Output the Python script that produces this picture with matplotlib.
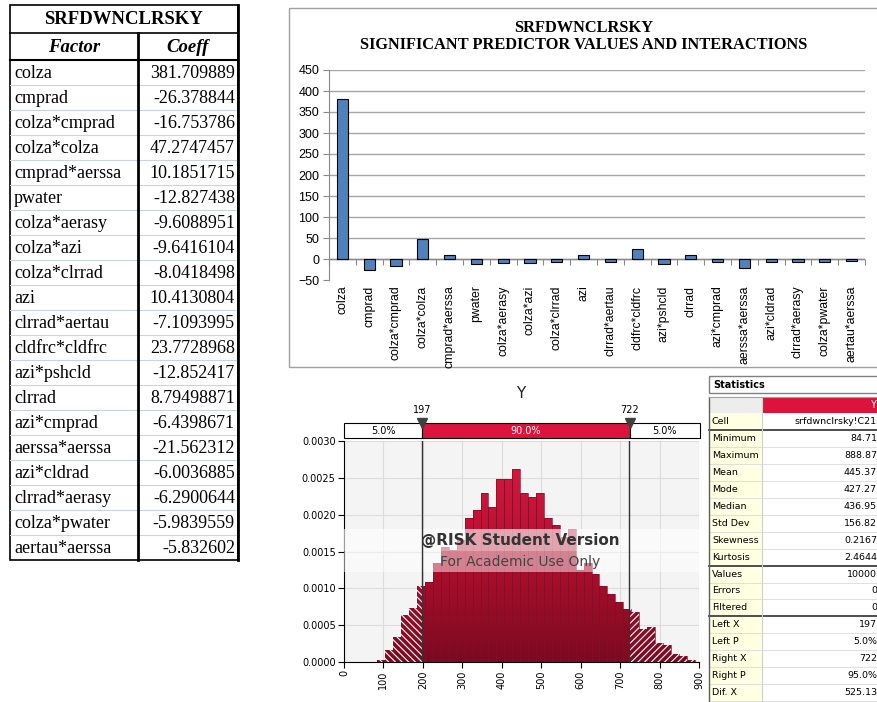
import matplotlib.pyplot as plt
import numpy as np
from matplotlib.colors import LinearSegmentedColormap
from matplotlib.patches import Rectangle
from matplotlib.path import Path

W, H = 878, 702

# regression terms kept for SRFDWNCLRSKY
factors = ['colza', 'cmprad', 'colza*cmprad', 'colza*colza', 'cmprad*aerssa',
           'pwater', 'colza*aerasy', 'colza*azi', 'colza*clrrad', 'azi',
           'clrrad*aertau', 'cldfrc*cldfrc', 'azi*pshcld', 'clrrad', 'azi*cmprad',
           'aerssa*aerssa', 'azi*cldrad', 'clrrad*aerasy', 'colza*pwater',
           'aertau*aerssa']
coeff_text = ['381.709889', '-26.378844', '-16.753786', '47.2747457', '10.1851715',
              '-12.827438', '-9.6088951', '-9.6416104', '-8.0418498', '10.4130804',
              '-7.1093995', '23.7728968', '-12.852417', '8.79498871', '-6.4398671',
              '-21.562312', '-6.0036885', '-6.2900644', '-5.9839559', '-5.832602']
coeffs = [float(c) for c in coeff_text]

# @RISK output distribution for Y (probability density per bin)
sim_min, sim_max = 84.71, 888.87
density = [0.00003, 0.00016, 0.00034, 0.00064, 0.00073, 0.00103, 0.00108, 0.00135,
           0.00156, 0.00152, 0.00165, 0.00196, 0.00206, 0.00229, 0.00211, 0.00249,
           0.00249, 0.00262, 0.00229, 0.00224, 0.00229, 0.00195, 0.00186, 0.00170,
           0.00180, 0.00125, 0.00134, 0.00120, 0.00103, 0.00092, 0.00082, 0.00072,
           0.00068, 0.00045, 0.00047, 0.00026, 0.00023, 0.00011, 0.00008, 0.00003]
left_x, right_x = 197, 722
band_pct = ['5.0%', '90.0%', '5.0%']

stat_names = ['Cell', 'Minimum', 'Maximum', 'Mean', 'Mode', 'Median', 'Std Dev',
              'Skewness', 'Kurtosis', 'Values', 'Errors', 'Filtered', 'Left X',
              'Left P', 'Right X', 'Right P', 'Dif. X']
stat_values = ['srfdwnclrsky!C21', '84.71', '888.87', '445.37', '427.27', '436.95',
               '156.82', '0.2167', '2.4644', '10000', '0', '0', '197', '5.0%',
               '722', '95.0%', '525.13']

CRIMSON = '#dc143c'
serif = 'Liberation Serif'
arial = 'Liberation Sans'
tahoma = 'DejaVu Sans'

plt.rcParams['hatch.linewidth'] = 0.8

fig = plt.figure(figsize=(W / 100, H / 100), dpi=100)
page = fig.add_axes([0, 0, 1, 1])
page.set_xlim(0, W)
page.set_ylim(H, 0)
page.axis('off')


def px_axes(x0, y0, x1, y1):
    return fig.add_axes([x0 / W, 1 - y1 / H, (x1 - x0) / W, (y1 - y0) / H])


# ---- coefficient table (left)
lx0, ldiv, lx1 = 10, 138, 238
ly0, lyh, lyd, rh = 5, 33, 60, 25
ly1 = lyd + rh * len(factors)
for i in range(1, len(factors)):
    y = lyd + i * rh
    page.plot([lx0, lx1], [y, y], color='#c9d3e2', lw=0.8)
page.add_patch(Rectangle((lx0, ly0), lx1 - lx0, ly1 - ly0, fill=False, ec='black', lw=1.2))
page.plot([lx0, lx1], [lyh, lyh], color='black', lw=1.2)
page.plot([lx0, lx1], [lyd, lyd], color='black', lw=1.5)
page.plot([ldiv, ldiv], [lyh, ly1], color='black', lw=2)
page.plot([lx1, lx1], [ly0, ly1], color='black', lw=2)
page.text((lx0 + lx1) / 2, (ly0 + lyh) / 2 + 1, 'SRFDWNCLRSKY', family=serif,
          weight='bold', size=13.5, ha='center', va='center')
page.text((lx0 + ldiv) / 2, (lyh + lyd) / 2 + 1, 'Factor', family=serif,
          weight='bold', style='italic', size=13.5, ha='center', va='center')
page.text((ldiv + lx1) / 2, (lyh + lyd) / 2 + 1, 'Coeff', family=serif,
          weight='bold', style='italic', size=13.5, ha='center', va='center')
for i, (f, c) in enumerate(zip(factors, coeff_text)):
    yc = lyd + (i + 0.5) * rh + 1
    page.text(lx0 + 4, yc, f, family=serif, size=13, ha='left', va='center')
    page.text(lx1 - 3, yc, c, family=serif, size=13, ha='right', va='center')

# ---- coefficient bar chart (top right)
page.add_patch(Rectangle((289, 8), 620, 359, fill=False, ec='#a0a0a0', lw=1))
page.text(584, 28, 'SRFDWNCLRSKY', family=serif, weight='bold', size=11.8,
          ha='center', va='center')
page.text(584, 45, 'SIGNIFICANT PREDICTOR VALUES AND INTERACTIONS', family=serif,
          weight='bold', size=11.8, ha='center', va='center')

ax1 = px_axes(329, 70, 865, 280)
ax1.set_facecolor('none')
xpos = np.arange(len(factors))
ax1.bar(xpos, coeffs, width=0.42, color='#4f81bd', edgecolor='black',
        linewidth=0.8, zorder=3)
ax1.set_xlim(-0.5, len(factors) - 0.5)
ax1.set_ylim(-50, 450)
ax1.set_yticks(np.arange(-50, 451, 50))
ax1.set_xticks(xpos)
ax1.set_xticklabels(factors, rotation=90, family=arial, fontsize=8.8)
for lbl in ax1.get_yticklabels():
    lbl.set_family(arial)
ax1.tick_params(axis='x', length=0, pad=4)
ax1.tick_params(axis='y', length=4, color='#888888', labelsize=9, pad=3)
ax1.grid(axis='y', color='#a6a6a6', lw=1, zorder=0)
ax1.get_ygridlines()[0].set_visible(False)
for side in ['top', 'right', 'bottom']:
    ax1.spines[side].set_visible(False)
ax1.spines['left'].set_color('#888888')
ax1.axhline(0, color='#888888', lw=1, zorder=2)
cat_axis = ax1.secondary_xaxis(50 / 500)
cat_axis.set_xticks(np.arange(-0.5, len(factors), 1.0))
cat_axis.tick_params(length=4, color='#888888', labelbottom=False)
cat_axis.spines['bottom'].set_visible(False)

# ---- @RISK histogram (bottom middle)
page.text(521, 393, 'Y', family=tahoma, size=11, color='#222222',
          ha='center', va='center')

ax2 = px_axes(344, 441, 699, 662)
ax2.set_facecolor('#f4f4f4')
ax2.set_xlim(0, 900)
ax2.set_ylim(0, 0.003)
ax2.set_xticks(np.arange(0, 901, 100))
ax2.set_yticks(np.arange(0, 0.00301, 0.0005))
ax2.set_yticklabels([f'{v:.4f}' for v in np.arange(0, 0.00301, 0.0005)])
ax2.tick_params(axis='x', labelrotation=90, labelsize=7, length=4, pad=2)
ax2.tick_params(axis='y', labelsize=7, length=4, pad=2)
for lbl in ax2.get_xticklabels() + ax2.get_yticklabels():
    lbl.set_family(tahoma)
ax2.grid(color='#dcdcdc', lw=0.8, zorder=0)
ax2.set_axisbelow(True)
for side in ['top', 'right']:
    ax2.spines[side].set_visible(False)

edges = np.linspace(sim_min, sim_max, len(density) + 1)
widths = np.diff(edges)
bars = ax2.bar(edges[:-1], density, width=widths, align='edge', facecolor='none',
               edgecolor='#8a0b26', linewidth=0.5, zorder=3)

# shaded fill clipped to the bar outlines
red_shade = LinearSegmentedColormap.from_list('shade', ['#7a0a20', '#b4102f', '#de1a44'])
grad = np.linspace(0, 1, 256).reshape(-1, 1)
img = ax2.imshow(grad, extent=[0, 900, 0, 0.003], origin='lower', aspect='auto',
                 cmap=red_shade, zorder=2)
bar_path = Path.make_compound_path(
    *[b.get_path().transformed(b.get_patch_transform()) for b in bars])
img.set_clip_path(bar_path, ax2.transData)
ax2.set_xlim(0, 900)
ax2.set_ylim(0, 0.003)

# hatched tails outside the 90% interval
for lo, hi, pattern in [(0, left_x, '\\\\\\\\\\'), (right_x, 900, '/////')]:
    tail = ax2.bar(edges[:-1], density, width=widths, align='edge', facecolor='none',
                   edgecolor='white', linewidth=0, hatch=pattern, zorder=3.5)
    window = Rectangle((lo, 0), hi - lo, 1, transform=ax2.transData)
    for b in tail:
        b.set_clip_path(window)

for xc in (left_x, right_x):
    ax2.axvline(xc, color='#333333', lw=1, zorder=6)

# student-licence watermark
ax2.add_patch(Rectangle((0, 0.503), 1, 0.10, transform=ax2.transAxes,
                        color='white', alpha=0.62, lw=0, zorder=4))
ax2.add_patch(Rectangle((0, 0.407), 1, 0.096, transform=ax2.transAxes,
                        color='white', alpha=0.48, lw=0, zorder=4))
ax2.text(0.497, 0.549, '@RISK Student Version', transform=ax2.transAxes,
         family=tahoma, weight='bold', size=11, color='#333333',
         ha='center', va='center', zorder=5)
ax2.text(0.497, 0.454, 'For Academic Use Only', transform=ax2.transAxes,
         family=tahoma, size=10, color='#444444', ha='center', va='center', zorder=5)

# percentile strip above the histogram
ax3 = px_axes(344, 423, 700, 438)
ax3.set_xlim(0, 900)
ax3.set_ylim(0, 1)
ax3.axis('off')
strip = [(0, left_x, 'white', 'black'), (left_x, right_x, CRIMSON, 'white'),
         (right_x, 900, 'white', 'black')]
for (lo, hi, fc, tc), pct in zip(strip, band_pct):
    ax3.add_patch(Rectangle((lo, 0), hi - lo, 1, fc=fc, ec='black', lw=0.8,
                            clip_on=False))
    ax3.text((lo + hi) / 2, 0.45, pct, family=tahoma, size=7, color=tc,
             ha='center', va='center')
for xc in (left_x, right_x):
    ax3.plot([xc], [1.0], marker='v', ms=7, color='#404040', clip_on=False, zorder=5)
    ax3.text(xc, 1.85, f'{xc}', family=tahoma, size=7, ha='center', va='center',
             clip_on=False)

# ---- statistics grid (bottom right)
sx0, sdiv, sx1 = 709, 762, 890
page.add_patch(Rectangle((sx0, 376), sx1 - sx0, 17, fill=False, ec='#808080', lw=1))
page.text(sx0 + 4, 384.5, 'Statistics', family=tahoma, weight='bold', size=7,
          ha='left', va='center')
page.add_patch(Rectangle((sx0 + 1, 397), sdiv - sx0 - 1, 16, fc='#ededed', lw=0))
page.add_patch(Rectangle((sdiv + 1, 397), sx1 - sdiv, 16, fc=CRIMSON, lw=0))
page.text(876, 405, 'Y', family=tahoma, size=7, color='white', ha='right', va='center')

srow0, srh = 413, 16.95
for i, (name, val) in enumerate(zip(stat_names, stat_values)):
    top = srow0 + i * srh
    page.add_patch(Rectangle((sx0, top), sdiv - sx0, srh, fc='#ffffe1', lw=0))
    page.text(sx0 + 3, top + srh / 2, name, family=tahoma, size=6.8,
              ha='left', va='center')
    page.text(877, top + srh / 2, val, family=tahoma, size=6.8,
              ha='right', va='center')
    heavy = i in (0, 8, 11)
    page.plot([sx0, sx1], [top + srh, top + srh],
              color='#404040' if heavy else '#dadada', lw=1.3 if heavy else 0.6)
page.plot([sx0, sx0], [397, H], color='#606060', lw=1)
page.plot([sdiv, sdiv], [397, H], color='#d0d0d0', lw=0.8)
page.plot([sx0, sx1], [397, 397], color='#a0a0a0', lw=0.8)

fig.savefig('out.png', dpi=100)
